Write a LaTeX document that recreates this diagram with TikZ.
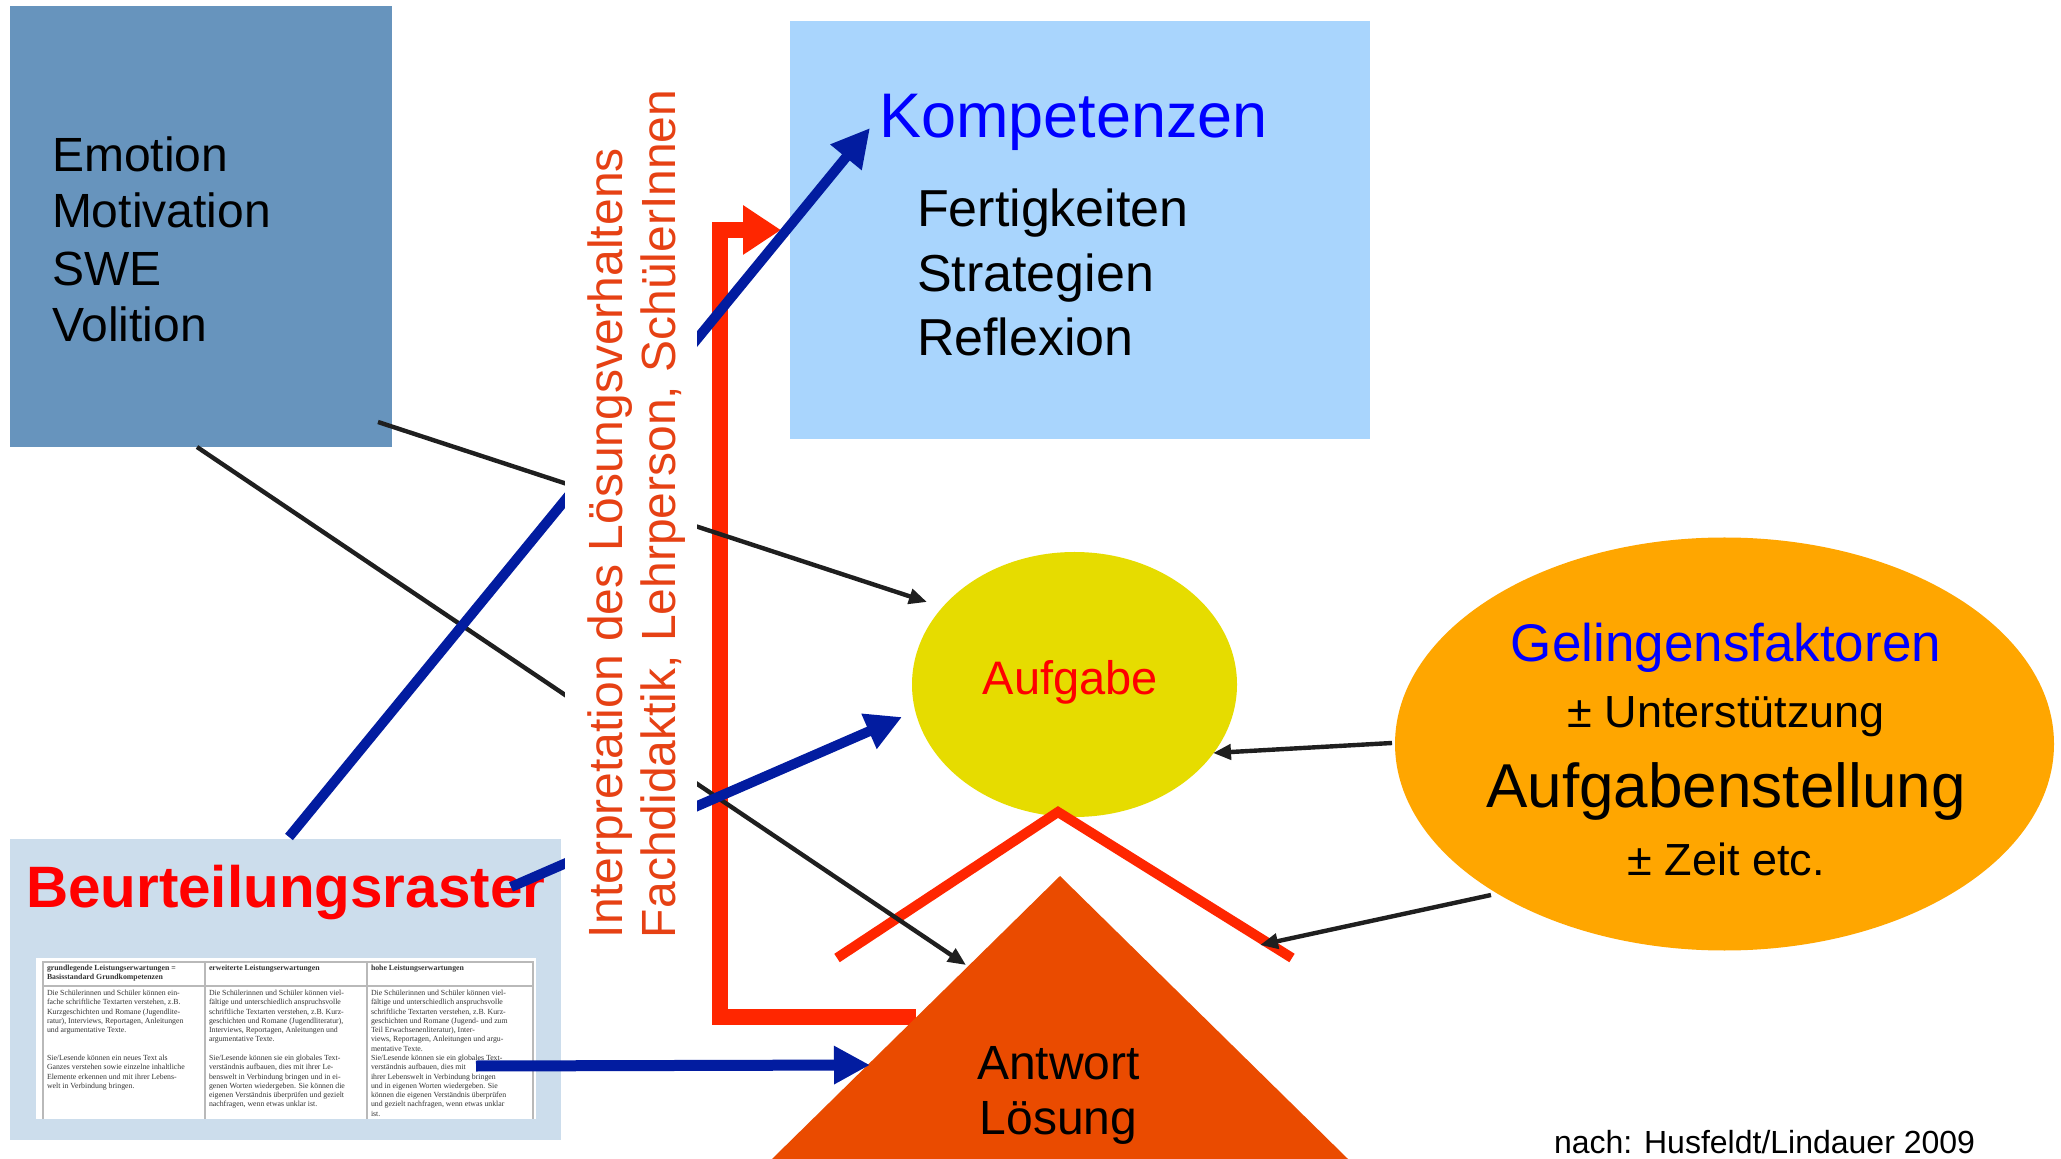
\documentclass[tikz,border=0pt]{standalone}
\usepackage{fontspec}
\setmainfont{Liberation Sans}
\newfontfamily\tabfont{Liberation Serif}
\usetikzlibrary{arrows.meta,shapes.geometric}
\definecolor{boxA}{RGB}{103,148,189}
\definecolor{boxK}{RGB}{169,213,253}
\definecolor{boxB}{RGB}{204,221,236}
\definecolor{yel}{RGB}{230,220,0}
\definecolor{org}{RGB}{255,166,0}
\definecolor{tri}{RGB}{234,75,0}
\definecolor{redL}{RGB}{255,38,0}
\definecolor{blueL}{RGB}{2,28,160}
\definecolor{vtext}{RGB}{230,65,20}
\definecolor{pureblue}{RGB}{0,0,255}
\definecolor{purered}{RGB}{255,0,0}
\definecolor{tabgrid}{RGB}{185,185,185}
\newcommand\myfs[1]{\fontsize{#1}{#1}\selectfont}
\begin{document}
\begin{tikzpicture}[x=0.5pt,y=-0.5pt,line join=miter,
  txt/.style={inner sep=0pt,outer sep=0pt},
  panel/.style={draw=none,inner sep=0pt,outer sep=0pt,rectangle},
  blob/.style={draw=none,inner sep=0pt,outer sep=0pt,ellipse},
  blk/.style={draw=black!88,line width=2.2pt,-{Triangle[length=9pt,width=7.5pt]}},
  blu/.style={draw=blueL,line width=5pt,-{Triangle[length=18pt,width=18pt]}},
  redline/.style={draw=redL,line width=8pt},
  tabtxt/.style={txt,anchor=north west,align=left,text=black!80,font=\tabfont\fontsize{3.9}{4.65}\selectfont},
  tabhead/.style={tabtxt,font=\tabfont\bfseries\fontsize{3.9}{4.65}\selectfont}]
\useasboundingbox (0,0) rectangle (2061,1159);
\fill[white] (0,0) rectangle (2061,1159);

% ---------- panels ----------
\node[panel,fill=boxA,minimum width=191pt,minimum height=220.5pt] (emo) at (201,226.5) {};
\node[panel,fill=boxK,minimum width=290pt,minimum height=209pt] (komp) at (1080,230) {};
\node[panel,fill=boxB,minimum width=275.5pt,minimum height=150.5pt] (beur) at (285.5,989.5) {};
\node[panel,fill=white,minimum width=250pt,minimum height=80.5pt] (tab) at (286,1038.5) {};

% table grid
\draw[tabgrid,line width=0.6pt] (43,1119) -- (43,962) -- (533,962) -- (533,1119);
\draw[tabgrid,line width=0.6pt] (43,986) -- (533,986);
\draw[tabgrid,line width=0.6pt] (205,962) -- (205,1119);
\draw[tabgrid,line width=0.6pt] (367,962) -- (367,1119);

% table text
\node[tabhead] (th1) at (47,965) {grundlegende Leistungserwartungen =\\ Basisstandard Grundkompetenzen};
\node[tabhead] (th2) at (209,965) {erweiterte Leistungserwartungen};
\node[tabhead] (th3) at (371,965) {hohe Leistungserwartungen};
\node[tabtxt] (t1a) at (47,990) {Die Schülerinnen und Schüler können ein-\\fache schriftliche Textarten verstehen, z.B.\\Kurzgeschichten und Romane (Jugendlite-\\ratur), Interviews, Reportagen, Anleitungen\\und argumentative Texte.};
\node[tabtxt] (t1b) at (47,1055) {Sie/Lesende können ein neues Text als\\Ganzes verstehen sowie einzelne inhaltliche\\Elemente erkennen und mit ihrer Lebens-\\welt in Verbindung bringen.};
\node[tabtxt] (t2a) at (209,990) {Die Schülerinnen und Schüler können viel-\\fältige und unterschiedlich anspruchsvolle\\schriftliche Textarten verstehen, z.B. Kurz-\\geschichten und Romane (Jugendliteratur),\\Interviews, Reportagen, Anleitungen und\\argumentative Texte.};
\node[tabtxt] (t2b) at (209,1055) {Sie/Lesende können sie ein globales Text-\\verständnis aufbauen, dies mit ihrer Le-\\benswelt in Verbindung bringen und in ei-\\genen Worten wiedergeben. Sie können die\\eigenen Verständnis überprüfen und gezielt\\nachfragen, wenn etwas unklar ist.};
\node[tabtxt] (t3a) at (371,990) {Die Schülerinnen und Schüler können viel-\\fältige und unterschiedlich anspruchsvolle\\schriftliche Textarten verstehen, z.B. Kurz-\\geschichten und Romane (Jugend- und zum\\Teil Erwachsenenliteratur), Inter-\\views, Reportagen, Anleitungen und argu-\\mentative Texte.};
\node[tabtxt] (t3b) at (371,1055) {Sie/Lesende können sie ein globales Text-\\verständnis aufbauen, dies mit\\ihrer Lebenswelt in Verbindung bringen\\und in eigenen Worten wiedergeben. Sie\\können die eigenen Verständnis überprüfen\\und gezielt nachfragen, wenn etwas unklar\\ist.};

% ellipses
\node[blob,fill=yel,minimum width=162.5pt,minimum height=132.5pt] (aufg) at (1074.5,684.5) {};
\node[blob,fill=org,minimum width=329.5pt,minimum height=206.5pt] (gel) at (1724.5,744) {};

% ---------- panel texts ----------
\node[txt,anchor=base west,font=\myfs{24}] (e1) at (52,172) {Emotion};
\node[txt,anchor=base west,font=\myfs{24}] (e2) at (52,228) {Motivation};
\node[txt,anchor=base west,font=\myfs{24}] (e3) at (52,286) {SWE};
\node[txt,anchor=base west,font=\myfs{24}] (e4) at (52,342) {Volition};

\node[txt,anchor=base west,font=\myfs{31.5},text=pureblue] (k0) at (879,138) {Kompetenzen};
\node[txt,anchor=base west,font=\myfs{26}] (k1) at (917,227) {Fertigkeiten};
\node[txt,anchor=base west,font=\myfs{26}] (k2) at (917,292) {Strategien};
\node[txt,anchor=base west,font=\myfs{26}] (k3) at (917,356) {Reflexion};

\node[txt,anchor=base,font=\myfs{23.5},text=purered] (aufgt) at (1070.5,695) {Aufgabe};

\node[txt,anchor=base,font=\myfs{26.5},text=pureblue] (g0) at (1726,662) {Gelingensfaktoren};
\node[txt,anchor=base,font=\myfs{22.5}] (g1) at (1726,728) {± Unterstützung};
\node[txt,anchor=base,font=\myfs{31}] (g2) at (1726,807) {Aufgabenstellung};
\node[txt,anchor=base,font=\myfs{22.5}] (g3) at (1726,875) {± Zeit etc.};

\node[txt,anchor=base west,font=\bfseries\myfs{29.2},text=purered] (beurt) at (26,907) {Beurteilungsraster};

% ---------- red L arrow ----------
\coordinate (rLs) at (916,1017);
\coordinate (rLa) at (720,1017);
\coordinate (rLb) at (720,230);
\coordinate (rLe) at (781,230);
\draw[redline,-{Triangle[length=19pt,width=23.5pt]}] (rLs) -- (rLa) -- (rLb) -- (rLe);

% ---------- red V ----------
\coordinate (v1) at (837,958);
\coordinate (v2) at (1058,812);
\coordinate (v3) at (1292,958);
\draw[draw=redL,line width=5pt] (v1) -- (v2) -- (v3);

% ---------- triangle ----------
\coordinate (ta) at (1060,876);
\coordinate (tl) at (772,1159);
\coordinate (tr) at (1348,1159);
\fill[tri] (ta) -- (tl) -- (tr) -- cycle;
\node[txt,anchor=base,font=\myfs{24}] (ans1) at (1058.5,1079) {Antwort};
\node[txt,anchor=base,font=\myfs{24}] (ans2) at (1058.5,1134) {Lösung};

% ---------- black arrows ----------
\coordinate (b1s) at (378,422);  \coordinate (b1e) at (927,602);
\coordinate (b2s) at (197,447);  \coordinate (b2e) at (966,965);
\coordinate (b3s) at (1392,743); \coordinate (b3e) at (1213,753);
\coordinate (b4s) at (1491,895); \coordinate (b4e) at (1260,945);
\draw[blk] (b1s) -- (b1e);
\draw[blk] (b2s) -- (b2e);
\draw[blk] (b3s) -- (b3e);
\draw[blk] (b4s) -- (b4e);

% ---------- blue arrows ----------
\coordinate (u1s) at (289,837);  \coordinate (u1e) at (870,128);
\coordinate (u2s) at (511,887);  \coordinate (u2e) at (902,717);
\coordinate (u3s) at (476,1066); \coordinate (u3e) at (870,1065);
\draw[blu,-{Triangle[length=19pt,width=19pt]}] (u1s) -- (u1e);
\draw[blu] (u2s) -- (u2e);
\draw[blu,line width=5.5pt] (u3s) -- (u3e);

% ---------- vertical text with white backing ----------
\node[panel,fill=white,minimum width=66pt,minimum height=432pt] (vback) at (631,512) {};
\node[txt,rotate=90,anchor=base west,font=\myfs{24},text=vtext] (vt1) at (622,938) {Interpretation des Lösungsverhaltens};
\node[txt,rotate=90,anchor=base west,font=\myfs{24},text=vtext] (vt2) at (675,938) {Fachdidaktik, Lehrperson, SchülerInnen};

% ---------- footer ----------
\node[txt,anchor=base west,font=\myfs{16}] (src) at (1554,1153) {nach: Husfeldt/Lindauer 2009};
\end{tikzpicture}
\end{document}
